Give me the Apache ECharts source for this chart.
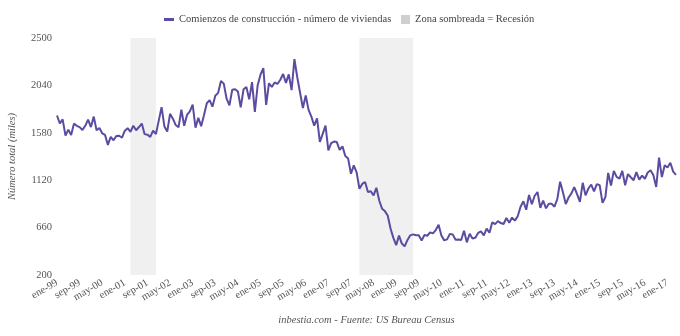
<!DOCTYPE html>
<html>
<head>
<meta charset="utf-8">
<script src="https://cdn.jsdelivr.net/npm/echarts@6/dist/echarts.min.js"></script>
<style>html,body{margin:0;padding:0;background:#fff;}#c{width:680px;height:336px;}</style>
</head>
<body>
<div id="c"></div>
<script>
// Month abbreviations and years used to build category labels (Jan 1999 - Apr 2017)
var monthNames = ['ene','feb','mar','abr','may','jun','jul','ago','sep','oct','nov','dic'];
var startYear = 1999;
var numMonths = 220;

// Housing starts, thousands of units (monthly)
var starts = [
  1748,1670,1710,1553,1611,1559,1669,1648,1635,1608,1648,1708,
  1636,1737,1604,1626,1575,1559,1463,1541,1507,1549,1551,1532,
  1600,1625,1590,1649,1605,1636,1670,1567,1562,1540,1602,1568,
  1698,1829,1642,1592,1764,1717,1655,1633,1804,1648,1753,1788,
  1853,1629,1726,1643,1751,1867,1897,1833,1939,1967,2083,2057,
  1911,1846,1998,2003,1981,1828,2002,2024,1905,2072,1782,2042,
  2144,2207,1850,2061,2025,2068,2054,2095,2151,2065,2147,1994,
  2295,2119,1969,1821,1942,1802,1737,1650,1720,1491,1570,1649,
  1409,1480,1495,1490,1415,1448,1354,1330,1183,1264,1197,1037,
  1084,1103,1005,1013,973,1046,923,844,820,777,652,560,
  490,582,505,478,540,585,594,586,585,534,588,581,
  614,604,636,687,583,536,546,599,594,543,545,539,
  630,517,600,554,561,608,623,585,650,610,711,694,
  723,704,695,753,708,757,728,770,863,915,833,976,
  888,969,1005,852,923,847,891,891,863,936,1105,1003,
  888,952,992,1052,985,909,1095,973,1039,1078,1012,1081,
  1072,900,954,1190,1069,1211,1152,1135,1211,1071,1179,1149,
  1120,1199,1126,1164,1134,1195,1216,1167,1054,1340,1150,1265,
  1244,1289,1203,1172
];

// Recession periods [start, end] as category labels
var recessions = [['mar-01','dic-01'],['dic-07','jul-09']];

var yTicks = {min: 200, max: 2500, interval: 460};
var labelEvery = 8;

var categories = [];
for (var i = 0; i < numMonths; i++) {
  var y = startYear + Math.floor(i / 12);
  categories.push(monthNames[i % 12] + '-' + String(y).slice(2));
}

var seriesName = 'Comienzos de construcción - número de viviendas';
var shadeName = 'Zona sombreada = Recesión';
var font = "'Liberation Serif', 'DejaVu Serif', serif";
var fs = 10.5;
var chart = echarts.init(document.getElementById('c'), null, {renderer: 'canvas'});
chart.setOption({
  animation: false,
  textStyle: {fontFamily: font},
  legend: [
    {
      top: 9,
      left: 159,
      itemWidth: 10,
      itemHeight: 3,
      icon: 'rect',
      textStyle: {fontFamily: font, fontSize: fs, color: '#444'},
      data: [{name: seriesName}]
    },
    {
      top: 9,
      left: 396,
      itemWidth: 9,
      itemHeight: 9,
      icon: 'rect',
      textStyle: {fontFamily: font, fontSize: fs, color: '#444'},
      data: [{name: shadeName, itemStyle: {color: '#cfcfcf'}}]
    }
  ],
  grid: {left: 57, right: 4, top: 38, bottom: 61, containLabel: false, outerBoundsMode: 'none'},
  xAxis: {
    type: 'category',
    data: categories,
    boundaryGap: false,
    name: 'inbestia.com - Fuente: US Bureau Census',
    nameLocation: 'middle',
    nameGap: 40,
    nameTextStyle: {fontFamily: font, fontStyle: 'italic', fontSize: fs, color: '#555'},
    axisLine: {show: false},
    axisTick: {show: false},
    splitLine: {show: false},
    axisLabel: {
      interval: function (idx) { return idx % labelEvery === 0; },
      rotate: 30,
      margin: 7,
      showMinLabel: true,
      showMaxLabel: true,
      hideOverlap: false,
      fontFamily: font,
      fontSize: fs,
      color: '#555'
    }
  },
  yAxis: {
    type: 'value',
    min: yTicks.min,
    max: yTicks.max,
    interval: yTicks.interval,
    name: 'Número total (miles)',
    nameLocation: 'middle',
    nameGap: 39,
    nameTextStyle: {fontFamily: font, fontStyle: 'italic', fontSize: fs, color: '#555'},
    axisLine: {show: false},
    axisTick: {show: false},
    splitLine: {show: false},
    axisLabel: {
      fontFamily: font, fontSize: fs, color: '#555', margin: 5,
      formatter: function (v) { return String(v); }
    }
  },
  series: [
    {
      name: seriesName,
      type: 'line',
      data: starts,
      symbol: 'none',
      z: 3,
      lineStyle: {color: '#5c4ba0', width: 2},
      itemStyle: {color: '#5c4ba0'}
    },
    {
      name: shadeName,
      type: 'line',
      data: [],
      symbol: 'none',
      z: 1,
      itemStyle: {color: '#cfcfcf'},
      lineStyle: {width: 0},
      markArea: {
        silent: true,
        itemStyle: {color: '#f0f0f0'},
        data: recessions.map(function (r) { return [{xAxis: r[0]}, {xAxis: r[1]}]; })
      }
    }
  ]
});
</script>
</body>
</html>
